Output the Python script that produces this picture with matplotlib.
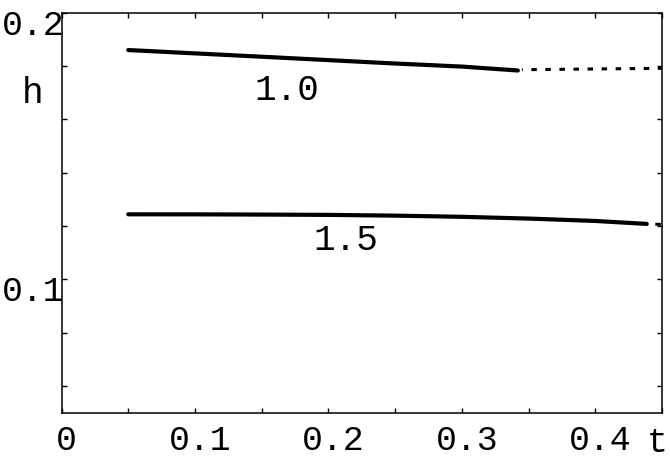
import numpy as np
import matplotlib
matplotlib.use("Agg")
import matplotlib.pyplot as plt
import matplotlib.transforms as mtransforms

# values
t_a = [0.05, 0.15, 0.25, 0.30, 0.342]
h_a = [0.1860, 0.1835, 0.18095, 0.1798, 0.17833]
t_a_dot = [0.345, 0.45]
h_a_dot = [0.17863, 0.17915]

t_b = [0.05, 0.10, 0.15, 0.20, 0.25, 0.30, 0.35, 0.40, 0.4386]
h_b = [0.1244, 0.12438, 0.1243, 0.12418, 0.1239, 0.12346, 0.1228, 0.1219, 0.1208]
t_b_dot = [0.4386, 0.45]
h_b_dot = [0.1208, 0.1206]

curve_labels = ["1.0", "1.5"]

xticks = np.arange(0, 0.451, 0.05)
xticklabels = ["0", "", "0.1", "", "0.2", "", "0.3", "", "0.4", ""]
yticks = np.arange(0.06, 0.201, 0.02)
yticklabels = ["", "", "0.1", "", "", "", "", "0.2"]

font = "Liberation Mono"
fs = 26
fs_tick = 25

fig = plt.figure(figsize=(6.7, 4.59), dpi=100)
ax = fig.add_axes([0.0918, 0.1009, 0.8962, 0.8714])

ax.plot(t_a, h_a, color="black", lw=3.0, solid_capstyle="round")
ax.plot(t_a_dot, h_a_dot, color="black", lw=2.2, linestyle=(1.5, (1.8, 2.8)), dash_capstyle="butt")
ax.plot(t_b, h_b, color="black", lw=3.0, solid_capstyle="round")
ax.plot(t_b_dot, h_b_dot, color="black", lw=2.2, linestyle=(1.8, (1.8, 2.8)), dash_capstyle="butt")

ax.text(0.1688, 0.16726, curve_labels[0], family=font, fontsize=fs, ha="center", va="baseline")
ax.text(0.2128, 0.11101, curve_labels[1], family=font, fontsize=fs, ha="center", va="baseline")

ax.set_xlim(0, 0.45)
ax.set_ylim(0.05, 0.2)
ax.set_xticks(xticks)
ax.set_xticklabels(xticklabels)
ax.set_yticks(yticks)
ax.set_yticklabels(yticklabels)

ax.tick_params(direction="in", length=3.6, width=1.0, top=True, right=True)
ax.tick_params(axis="x", pad=8)
ax.tick_params(axis="y", pad=-2.5)
for sp in ax.spines.values():
    sp.set_linewidth(1.1)

dx = mtransforms.ScaledTranslation(5 / 100, 0, fig.dpi_scale_trans)
dy = mtransforms.ScaledTranslation(0, -9 / 100, fig.dpi_scale_trans)
for lab in ax.get_xticklabels():
    lab.set_family(font)
    lab.set_fontsize(fs_tick)
    lab.set_transform(lab.get_transform() + dx)
for lab in ax.get_yticklabels():
    lab.set_family(font)
    lab.set_fontsize(fs_tick)
    lab.set_transform(lab.get_transform() + dy)

ax.set_xlabel("t", family=font, fontsize=fs_tick, va="center")
ax.xaxis.set_label_coords(0.9917, -0.075)
ax.set_ylabel("h", family=font, fontsize=fs, rotation=0, ha="center", va="center")
ax.yaxis.set_label_coords(-0.048, 0.797)

fig.savefig("out.png", dpi=100)
